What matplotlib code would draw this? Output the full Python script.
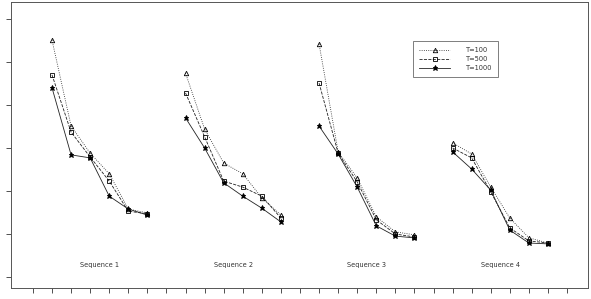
import numpy as np
import matplotlib
matplotlib.use("Agg")
import matplotlib.pyplot as plt

# — DATA (arbitrary units) —
SEQ_NAMES = ["Sequence 1", "Sequence 2", "Sequence 3", "Sequence 4"]
SEQ_X = [[2, 3, 4, 5, 6, 7],
         [9, 10, 11, 12, 13, 14],
         [16, 17, 18, 19, 20, 21],
         [23, 24, 25, 26, 27, 28]]

T100 = [[5.51, 3.51, 2.88, 2.40, 1.58, 1.49],
        [4.74, 3.44, 2.65, 2.40, 1.84, 1.44],
        [5.42, 2.91, 2.30, 1.40, 1.05, 0.98],
        [3.12, 2.86, 2.09, 1.37, 0.91, 0.79]]
T500 = [[4.70, 3.37, 2.79, 2.23, 1.53, 1.47],
        [4.28, 3.26, 2.23, 2.09, 1.88, 1.37],
        [4.51, 2.88, 2.21, 1.33, 1.00, 0.93],
        [3.00, 2.77, 1.98, 1.14, 0.84, 0.79]]
T1000 = [[4.40, 2.84, 2.77, 1.88, 1.58, 1.44],
         [3.70, 3.00, 2.19, 1.88, 1.60, 1.28],
         [3.51, 2.86, 2.09, 1.19, 0.95, 0.91],
         [2.91, 2.51, 2.02, 1.09, 0.79, 0.77]]

SERIES = [("T=100", T100, ":", "^", "none"),
          ("T=500", T500, "--", "s", "none"),
          ("T=1000", T1000, "-", "*", "black")]

fig = plt.figure(figsize=(5.91, 2.99), dpi=100)
ax = fig.add_axes([0.0186, 0.0368, 0.9764, 0.9565])

for label, vals, ls, mk, fc in SERIES:
    for i, (xs, ys) in enumerate(zip(SEQ_X, vals)):
        ax.plot(xs, ys, linestyle=ls, color="#222222", lw=0.6,
                marker=mk, markersize=3.2 if mk != "*" else 3.7,
                markerfacecolor=fc, markeredgecolor="black", markeredgewidth=0.6,
                label=label if i == 0 else None)

# sequence labels under each group
for xs, name in zip(SEQ_X, SEQ_NAMES):
    ax.text(np.mean(xs), 0.28, name, ha="center", va="center",
            fontsize=4.8, color="#333333")

ax.set_xlim(-0.15, 30.1)
ax.set_ylim(-0.256, 6.395)
ax.set_xticks(range(1, 30))
ax.set_yticks(range(0, 7))
ax.set_xticklabels([])
ax.set_yticklabels([])
ax.tick_params(direction="out", length=3.6, width=0.6, color="#333333")
for sp in ax.spines.values():
    sp.set_linewidth(0.7)
    sp.set_color("#555555")

leg = ax.legend(loc="upper left", bbox_to_anchor=(0.697, 0.864),
                fontsize=4.8, frameon=True, fancybox=False,
                handlelength=4.6, handletextpad=2.4, borderpad=0.9,
                labelspacing=0.45, borderaxespad=0.0, edgecolor="#444444")
leg.get_frame().set_linewidth(0.6)
for t in leg.get_texts():
    t.set_color("#333333")

fig.savefig("out.png", dpi=100)
